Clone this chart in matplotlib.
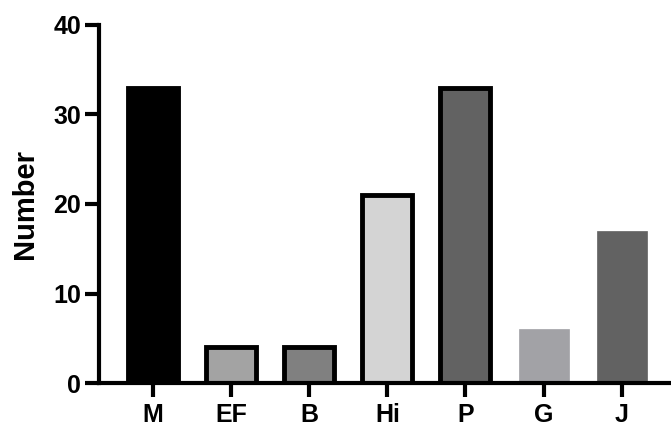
import matplotlib
matplotlib.use("Agg")
import matplotlib.pyplot as plt

categories = ["M", "EF", "B", "Hi", "P", "G", "J"]
values = [33, 4, 4, 21, 33, 6, 17]
colors = ["#000000", "#a3a3a3", "#808080", "#d4d4d4", "#626262", "#a2a2a6", "#626262"]
outlined = [True, True, True, True, True, False, False]

plt.rcParams['font.family'] = ['Liberation Sans', 'DejaVu Sans']
plt.rcParams['font.weight'] = 'bold'

fig = plt.figure(figsize=(6.71, 4.28), dpi=100)
ax = fig.add_axes([0.1475, 0.105, 0.8525, 0.837])

x = range(len(categories))
for xi, v, c, o in zip(x, values, colors, outlined):
    ax.bar(xi, v, width=0.64, color=c,
           edgecolor="black" if o else c,
           linewidth=3.5 if o else 0.5)

ax.set_xlim(-0.69, 6.63)
ax.set_ylim(0, 40)
ax.set_yticks([0, 10, 20, 30, 40])
ax.set_xticks(list(x))
ax.set_xticklabels(categories)
ax.spines['top'].set_visible(False)
ax.spines['right'].set_visible(False)
ax.spines['left'].set_linewidth(3)
ax.spines['bottom'].set_linewidth(3)
ax.tick_params(axis='y', width=3, length=10, labelsize=18, pad=3)
ax.tick_params(axis='x', width=3, length=10, labelsize=18, pad=4)
for lab in ax.get_xticklabels() + ax.get_yticklabels():
    lab.set_fontweight('bold')
ax.set_ylabel("Number", fontsize=21, fontweight='bold', labelpad=10)

fig.savefig("out.png", dpi=100)
